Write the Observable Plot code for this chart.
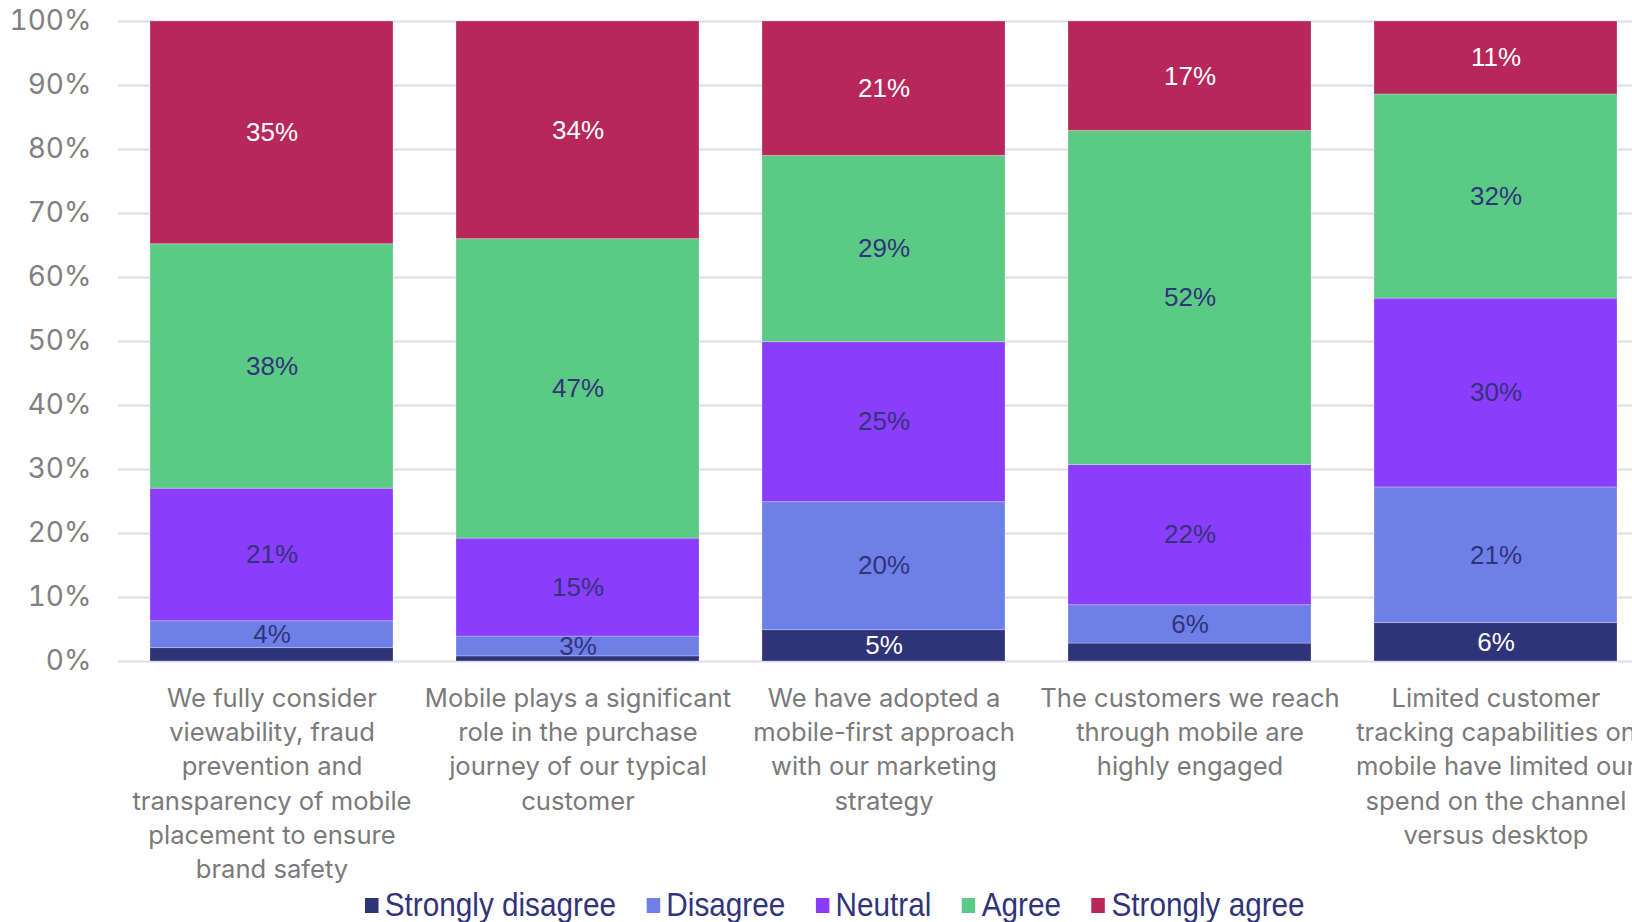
<!DOCTYPE html>
<html><head><meta charset="utf-8">
<script src="https://cdn.jsdelivr.net/npm/d3@7"></script>
<script src="https://cdn.jsdelivr.net/npm/@observablehq/plot@0.6"></script>
<style>
html,body{margin:0;padding:0;background:#fff;width:1632px;height:922px;overflow:hidden;position:relative;}
#chart{position:absolute;left:0;top:0;}
#chart svg{max-width:none !important;}
#legend{position:absolute;left:365px;top:886px;display:flex;align-items:center;font-family:"Liberation Sans",Arial,sans-serif;font-size:33px;color:#31347a;white-space:nowrap;line-height:38px;transform:scaleX(0.9);transform-origin:0 50%;}
.item{display:flex;align-items:center;margin-right:34px}
.sw{width:15px;height:15px;margin-right:7px;display:inline-block}
</style></head><body>
<div id="chart"></div><div id="legend"></div>
<script>
const categories = [
  "We fully consider\nviewability, fraud\nprevention and\ntransparency of mobile\nplacement to ensure\nbrand safety",
  "Mobile plays a significant\nrole in the purchase\njourney of our typical\ncustomer",
  "We have adopted a\nmobile-first approach\nwith our marketing\nstrategy",
  "The customers we reach\nthrough mobile are\nhighly engaged",
  "Limited customer\ntracking capabilities on\nmobile have limited our\nspend on the channel\nversus desktop"
];
const series = ["Strongly disagree", "Disagree", "Neutral", "Agree", "Strongly agree"];
const colors = ["#2f3378", "#6e80e8", "#8b3dfd", "#5bca84", "#b7275a"];
const stronglyDisagree = [2.1, 0.8, 4.9, 2.8, 6.0];
const disagree         = [4.2, 3.1, 20.0, 6.0, 21.2];
const neutral          = [20.7, 15.3, 25.0, 21.9, 29.5];
const agree            = [38.2, 46.8, 29.1, 52.2, 31.9];
const stronglyAgree    = [34.8, 34.0, 21.0, 17.1, 11.4];
const yTicks = [0, 10, 20, 30, 40, 50, 60, 70, 80, 90, 100];

const valuesBySeries = [stronglyDisagree, disagree, neutral, agree, stronglyAgree];
const data = [];
categories.forEach((c, i) => series.forEach((s, j) => data.push({category: c, series: s, value: valuesBySeries[j][i]})));

const lightText = new Set(["Strongly disagree", "Strongly agree"]);
const label = d => d.value >= 3 ? Math.round(d.value) + "%" : null;

const chart = Plot.plot({
  width: 1648,
  height: 870,
  marginLeft: 118,
  marginRight: 0,
  marginTop: 21,
  marginBottom: 209,
  style: {fontFamily: "Inter, sans-serif", background: "white", overflow: "visible"},
  x: {domain: categories, paddingInner: 0.206, paddingOuter: 0.103, label: null},
  y: {domain: [0, 100], label: null},
  color: {domain: series, range: colors},
  marks: [
    Plot.gridY(yTicks, {stroke: "#dcdcf0", strokeOpacity: 1, strokeWidth: 2}),
    Plot.barY(data, {x: "category", y: "value", fill: "series", order: series, stroke: "white", strokeOpacity: 0.25, strokeWidth: 1}),
    Plot.text(data, Plot.stackY({x: "category", y: "value", z: "series", order: series,
      text: d => lightText.has(d.series) ? label(d) : null,
      fill: "white", fontSize: 26, fontFamily: "'Liberation Sans', Arial, sans-serif"})),
    Plot.text(data, Plot.stackY({x: "category", y: "value", z: "series", order: series,
      text: d => lightText.has(d.series) ? null : label(d),
      fill: "#31347a", fontSize: 26, fontFamily: "'Liberation Sans', Arial, sans-serif"})),
    Plot.axisY({ticks: yTicks, tickFormat: d => d + "%", tickSize: 0, tickPadding: 27, fontSize: 28, fill: "#808080", label: null}),
    Plot.axisX({tickSize: 0, tickPadding: 21, fontSize: 25.6, lineHeight: 1.34, fill: "#7a7a7a", label: null, lineAnchor: "top"})
  ]
});
document.getElementById("chart").appendChild(chart);

const legend = document.getElementById("legend");
series.forEach((s, i) => {
  const item = document.createElement("div");
  item.className = "item";
  const sw = document.createElement("span");
  sw.className = "sw";
  sw.style.background = colors[i];
  const t = document.createElement("span");
  t.textContent = s;
  item.appendChild(sw); item.appendChild(t);
  legend.appendChild(item);
});
</script>
</body></html>
